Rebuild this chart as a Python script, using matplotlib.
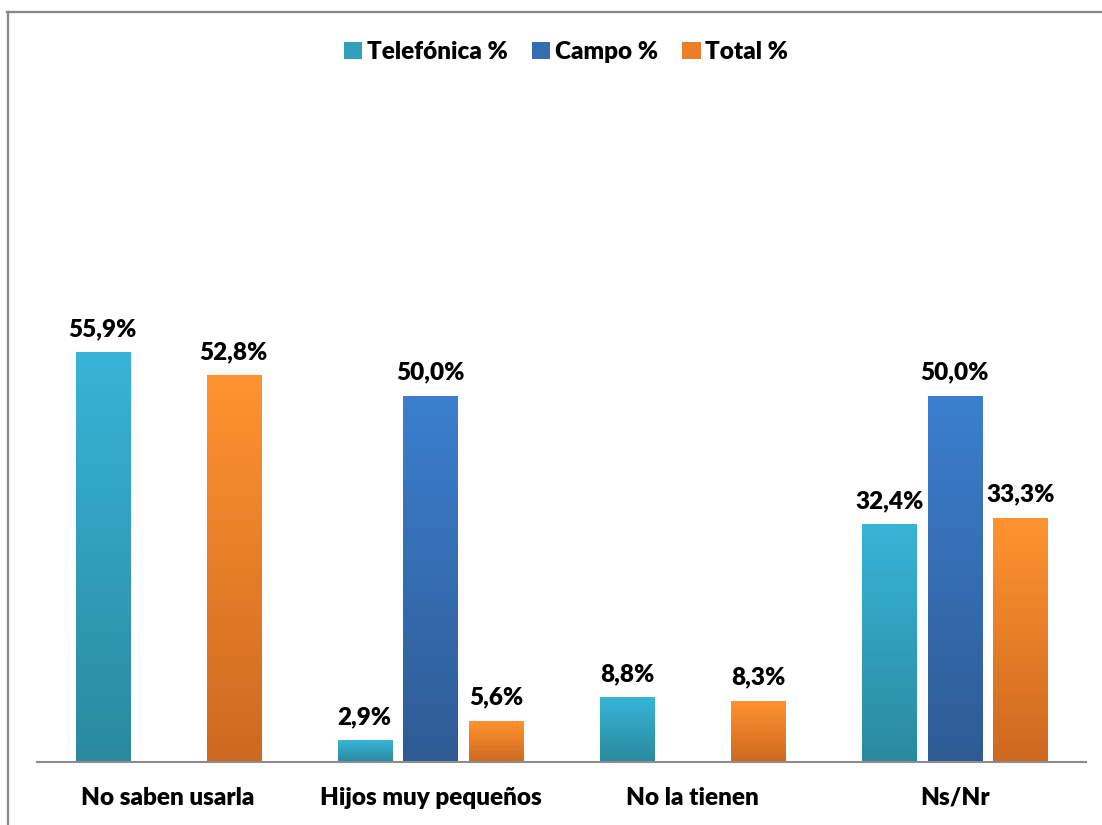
import matplotlib
matplotlib.use("Agg")
import matplotlib.pyplot as plt
import numpy as np
from matplotlib.patches import Patch
from matplotlib.lines import Line2D
from matplotlib.colors import LinearSegmentedColormap

plt.rcParams['font.family'] = ['Lato', 'DejaVu Sans']

categories = ["No saben usarla", "Hijos muy pequeños", "No la tienen", "Ns/Nr"]
series_names = ["Telefónica %", "Campo %", "Total %"]
telefonica = [55.9, 2.9, 8.8, 32.4]
campo = [None, 50.0, None, 50.0]
total = [52.8, 5.6, 8.3, 33.3]
values = [telefonica, campo, total]

top_colors = ["#37B4D8", "#3B7FCE", "#FF9330"]
bot_colors = ["#2A8A9E", "#2E5B94", "#CD6920"]
mid_colors = ["#31A0BC", "#356DB2", "#EB7E28"]

FS = 17.5
FW = 'heavy'

W, H = 1102, 825
fig = plt.figure(figsize=(W / 100, H / 100), dpi=100)
px_per_unit = 7.32
ax_top_px, base_px = 100, 762
ax = fig.add_axes([37 / W, (H - base_px) / H, 1049 / W, (base_px - ax_top_px) / H])
ax.set_xlim(-0.5, len(categories) - 0.5)
ax.set_ylim(0, (base_px - ax_top_px) / px_per_unit)

bar_w = 0.206
offsets = [-0.25, 0.0, 0.25]
grad = np.linspace(1, 0, 256).reshape(-1, 1)

for si, vals in enumerate(values):
    cmap = LinearSegmentedColormap.from_list("g%d" % si, [bot_colors[si], top_colors[si]])
    for ci, v in enumerate(vals):
        if v is None:
            continue
        x0 = ci + offsets[si] - bar_w / 2
        x1 = x0 + bar_w
        ax.imshow(grad, cmap=cmap, extent=[x0, x1, 0, v], aspect='auto',
                  interpolation='bicubic', zorder=2, vmin=0, vmax=1)
        ax.annotate(f"{v:.1f}%".replace(".", ","), xy=(ci + offsets[si], v),
                    xytext=(0, 9), textcoords='offset points', ha='center',
                    va='bottom', fontsize=FS, fontweight=FW, color='black')

ax.set_xlim(-0.5, len(categories) - 0.5)
ax.set_ylim(0, (base_px - ax_top_px) / px_per_unit)

for s in ['top', 'right', 'left']:
    ax.spines[s].set_visible(False)
ax.spines['bottom'].set_color('#8C8C8C')
ax.spines['bottom'].set_linewidth(1.5)
ax.set_yticks([])
ax.set_xticks(range(len(categories)))
ax.set_xticklabels(categories, fontsize=FS, fontweight=FW)
ax.tick_params(axis='x', length=0, pad=18)
ax.patch.set_alpha(0)

handles = [Patch(facecolor=mid_colors[i], edgecolor='none') for i in range(3)]
leg = fig.legend(handles, series_names, loc='center', bbox_to_anchor=(566 / W, 1 - 52 / H),
                 ncol=3, frameon=False, handlelength=0.75, handleheight=0.75,
                 handletextpad=0.2, columnspacing=1.0,
                 prop={'weight': FW, 'size': FS})

# outer border (top and left)
fig.add_artist(Line2D([7 / W, 1], [1 - 12 / H, 1 - 12 / H], transform=fig.transFigure,
                      color='#878787', lw=1.6))
fig.add_artist(Line2D([8 / W, 8 / W], [0, 1 - 12 / H], transform=fig.transFigure,
                      color='#878787', lw=1.6))

fig.savefig("out.png", dpi=100)
